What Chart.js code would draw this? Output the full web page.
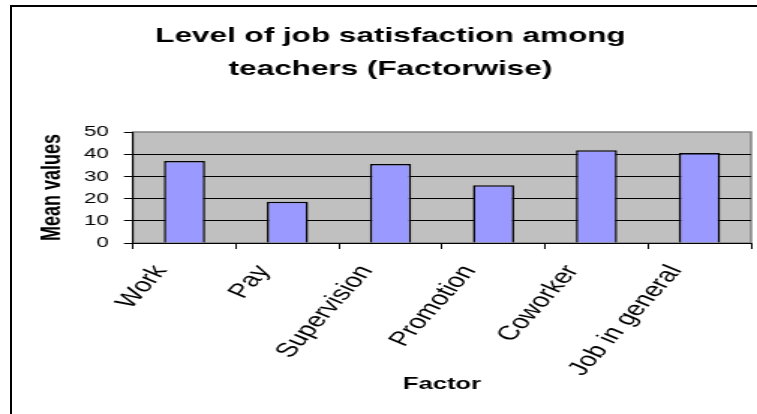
<!DOCTYPE html>
<html>
<head>
<meta charset="utf-8">
<script src="https://cdn.jsdelivr.net/npm/chart.js@4/dist/chart.umd.min.js"></script>
<style>
  html, body { margin: 0; padding: 0; background: #fff; overflow: hidden; }
  body { width: 757px; height: 414px; position: relative; }
  .frame { position: absolute; left: 10px; top: 5px; width: 800px; height: 500px; border: 2px solid #000; }
  #chart { position: absolute; left: 0; top: 0; }
</style>
</head>
<body>
<div class="frame"></div>
<!-- the original picture is an Excel chart stretched sideways, so draw narrow and stretch -->
<canvas id="chart" width="505" height="414" style="width:757px;height:414px"></canvas>
<script>
const factors = ['Work', 'Pay', 'Supervision', 'Promotion', 'Coworker', 'Job in general'];
const meanValues = [36.9, 18.6, 35.6, 26.0, 41.8, 40.5];
const yTicks = [0, 10, 20, 30, 40, 50];
const titleLines = ['Level of job satisfaction among', 'teachers (Factorwise)'];

Chart.defaults.font.family = "Arial, 'Liberation Sans', sans-serif";
Chart.defaults.color = '#000';

// grey plot area like Excel
const plotBackground = {
    id: 'plotBackground',
    beforeDraw(chart) {
        const { ctx, chartArea: a } = chart;
        ctx.save();
        ctx.fillStyle = '#c0c0c0';
        ctx.fillRect(a.left, a.top, a.width, a.height);
        ctx.strokeStyle = '#808080';
        ctx.lineWidth = 1.5;
        ctx.strokeRect(a.left, a.top, a.width, a.height);
        ctx.restore();
    }
};

const ctx = document.getElementById('chart').getContext('2d');
new Chart(ctx, {
    type: 'bar',
    data: {
        labels: factors,
        datasets: [{
            data: meanValues,
            backgroundColor: '#9999ff',
            borderColor: '#000',
            borderWidth: 1.5,
            barPercentage: 0.4,
            categoryPercentage: 1
        }]
    },
    plugins: [plotBackground],
    options: {
        responsive: false,
        devicePixelRatio: 1,
        animation: false,
        layout: { padding: { left: 20, right: 4, top: 0, bottom: 0 } },
        plugins: {
            legend: { display: false },
            tooltip: { enabled: false },
            title: {
                display: true,
                text: titleLines,
                font: { size: 21, weight: 'bold', lineHeight: 1.6 },
                color: '#000',
                padding: { top: 19, bottom: 45.8 }
            }
        },
        scales: {
            x: {
                grid: {
                    offset: true,
                    drawOnChartArea: false,
                    tickLength: 6,
                    tickColor: '#000'
                },
                border: { color: '#000', width: 1 },
                ticks: {
                    autoSkip: false,
                    minRotation: 58,
                    maxRotation: 58,
                    labelOffset: -16,
                    padding: 12,
                    font: { size: 20 }
                },
                title: {
                    display: true,
                    text: 'Factor',
                    font: { size: 17, weight: 'bold', lineHeight: 1.2 },
                    padding: { top: 4, bottom: 19.8 }
                },
                afterFit(axis) { axis.height = 171; }
            },
            y: {
                min: yTicks[0],
                max: yTicks[yTicks.length - 1],
                afterBuildTicks(axis) { axis.ticks = yTicks.map(v => ({ value: v })); },
                grid: {
                    color: c => (c.tick && c.tick.value === 50 ? 'rgba(0,0,0,0)' : '#000'),
                    tickColor: '#000',
                    tickLength: 6
                },
                border: { color: '#000', width: 1 },
                ticks: { padding: 10, font: { size: 15 } },
                title: {
                    display: true,
                    text: 'Mean values',
                    font: { size: 18, weight: 'bold', lineHeight: 1.2 },
                    padding: { top: 4, bottom: 10.5 }
                },
                afterFit(axis) { axis.width = 68.7; }
            }
        }
    }
});
</script>
</body>
</html>
